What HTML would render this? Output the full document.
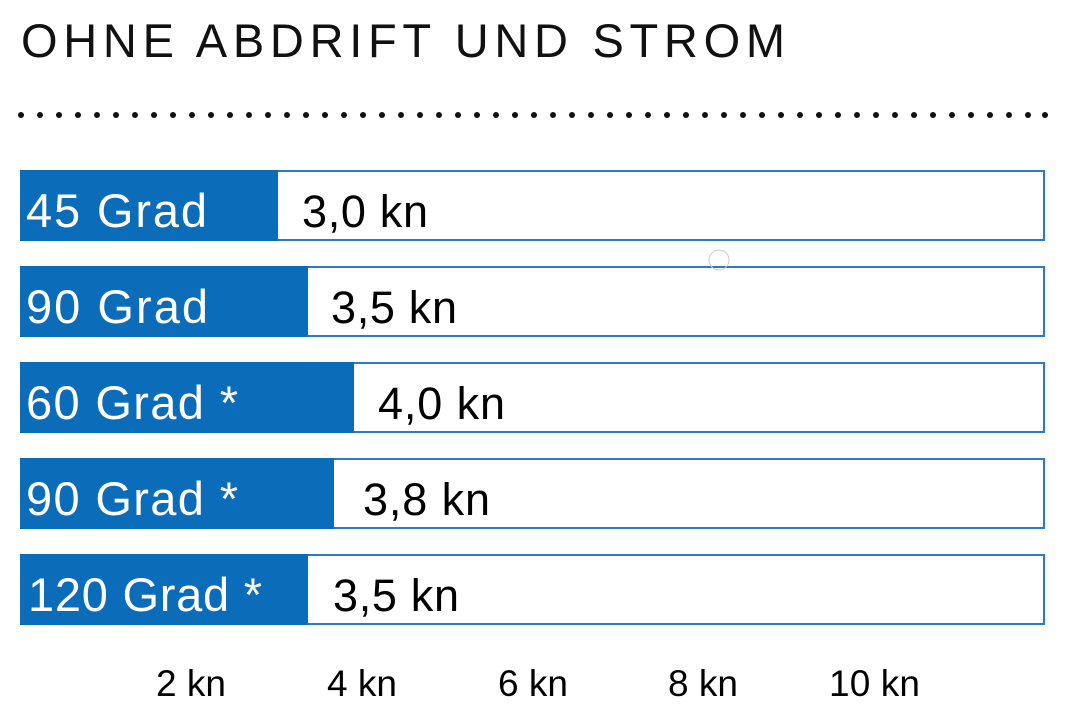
<!DOCTYPE html>
<html><head><meta charset="utf-8"><style>
html,body{margin:0;padding:0;background:#fff;}
svg{display:block;}
text{font-family:"Liberation Sans",sans-serif;}
</style></head><body>
<svg width="1068" height="712" viewBox="0 0 1068 712">
<text x="21" y="57" font-size="47" textLength="764" lengthAdjust="spacing" fill="#111">OHNE ABDRIFT UND STROM</text>
<g fill="#111">
<circle cx="21" cy="115" r="3"/><circle cx="40" cy="115" r="3"/><circle cx="59" cy="115" r="3"/><circle cx="78" cy="115" r="3"/><circle cx="97" cy="115" r="3"/><circle cx="116" cy="115" r="3"/><circle cx="135" cy="115" r="3"/><circle cx="154" cy="115" r="3"/><circle cx="173" cy="115" r="3"/><circle cx="192" cy="115" r="3"/><circle cx="211" cy="115" r="3"/><circle cx="230" cy="115" r="3"/><circle cx="249" cy="115" r="3"/><circle cx="268" cy="115" r="3"/><circle cx="287" cy="115" r="3"/><circle cx="306" cy="115" r="3"/><circle cx="325" cy="115" r="3"/><circle cx="344" cy="115" r="3"/><circle cx="363" cy="115" r="3"/><circle cx="382" cy="115" r="3"/><circle cx="401" cy="115" r="3"/><circle cx="420" cy="115" r="3"/><circle cx="439" cy="115" r="3"/><circle cx="458" cy="115" r="3"/><circle cx="477" cy="115" r="3"/><circle cx="496" cy="115" r="3"/><circle cx="515" cy="115" r="3"/><circle cx="534" cy="115" r="3"/><circle cx="553" cy="115" r="3"/><circle cx="572" cy="115" r="3"/><circle cx="591" cy="115" r="3"/><circle cx="610" cy="115" r="3"/><circle cx="629" cy="115" r="3"/><circle cx="648" cy="115" r="3"/><circle cx="667" cy="115" r="3"/><circle cx="686" cy="115" r="3"/><circle cx="705" cy="115" r="3"/><circle cx="724" cy="115" r="3"/><circle cx="743" cy="115" r="3"/><circle cx="762" cy="115" r="3"/><circle cx="781" cy="115" r="3"/><circle cx="800" cy="115" r="3"/><circle cx="819" cy="115" r="3"/><circle cx="838" cy="115" r="3"/><circle cx="857" cy="115" r="3"/><circle cx="876" cy="115" r="3"/><circle cx="895" cy="115" r="3"/><circle cx="914" cy="115" r="3"/><circle cx="933" cy="115" r="3"/><circle cx="952" cy="115" r="3"/><circle cx="971" cy="115" r="3"/><circle cx="990" cy="115" r="3"/><circle cx="1009" cy="115" r="3"/><circle cx="1028" cy="115" r="3"/><circle cx="1045" cy="115" r="3"/>
</g>
<g stroke="#2a7bbf" stroke-width="2" fill="#fff">
<rect x="21" y="171" width="1023" height="69"/>
<rect x="21" y="267" width="1023" height="69"/>
<rect x="21" y="363" width="1023" height="69"/>
<rect x="21" y="459" width="1023" height="69"/>
<rect x="21" y="555" width="1023" height="69"/>
</g>
<g fill="#0b6cb9">
<rect x="20" y="170" width="258" height="71"/>
<rect x="20" y="266" width="288" height="71"/>
<rect x="20" y="362" width="334" height="71"/>
<rect x="20" y="458" width="314" height="71"/>
<rect x="20" y="554" width="288" height="71"/>
</g>
<g fill="#fff" font-size="47">
<text x="26" y="227" textLength="181">45 Grad</text>
<text x="26" y="323" textLength="182">90 Grad</text>
<text x="26" y="419" textLength="212">60 Grad *</text>
<text x="26" y="515" textLength="212">90 Grad *</text>
<text x="28" y="611" textLength="234">120 Grad *</text>
</g>
<g fill="#000" font-size="45">
<text x="302" y="227" textLength="126">3,0 kn</text>
<text x="331" y="323" textLength="126">3,5 kn</text>
<text x="378" y="419" textLength="127">4,0 kn</text>
<text x="363" y="515" textLength="127">3,8 kn</text>
<text x="333" y="611" textLength="126">3,5 kn</text>
</g>
<g fill="#000" font-size="37">
<text x="156" y="696" textLength="70">2 kn</text>
<text x="327" y="696" textLength="70">4 kn</text>
<text x="498" y="696" textLength="70">6 kn</text>
<text x="668" y="696" textLength="70">8 kn</text>
<text x="829" y="696" textLength="91">10 kn</text>
</g>
<circle cx="719" cy="260" r="10" fill="none" stroke="#ccc" stroke-width="1"/>
</svg>
</body></html>
